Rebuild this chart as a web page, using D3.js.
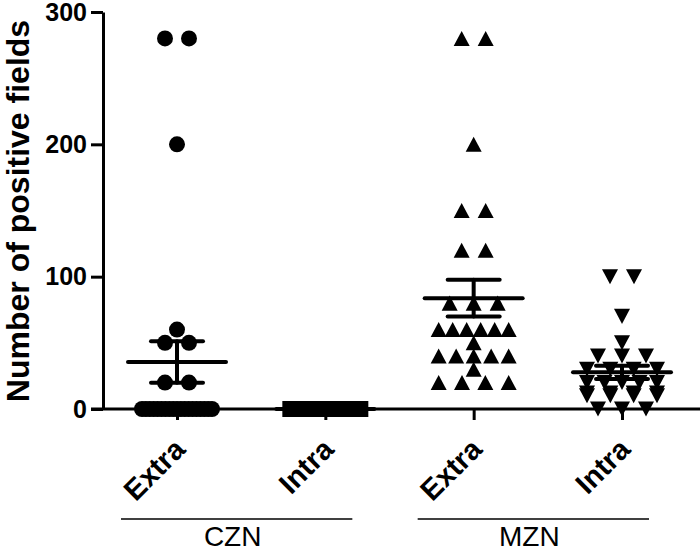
<!DOCTYPE html>
<meta charset="utf-8">
<style>
  body { margin: 0; background: #fff; }
  text { font-family: "Liberation Sans", Arial, sans-serif; fill: #000; }
</style>
<body>
<script src="https://d3js.org/d3.v7.min.js"></script>
<script>

var width = 700,
    height = 553;

// data
var series = ["CZN Extra", "CZN Intra", "MZN Extra", "MZN Intra"];
var tickLabels = ["Extra", "Intra", "Extra", "Intra"];
var groupLabels = ["CZN", "MZN"];
var groupMembers = [["CZN Extra", "CZN Intra"], ["MZN Extra", "MZN Intra"]];
var yTicks = [0, 100, 200, 300];

var cznExtra = [280, 280, 200, 60, 50, 50, 20, 20,
                0, 0, 0, 0, 0, 0, 0, 0, 0, 0, 0, 0, 0, 0, 0, 0, 0, 0, 0];
var cznIntra = [0, 0, 0, 0, 0, 0, 0, 0, 0, 0, 0, 0, 0, 0,
                0, 0, 0, 0, 0, 0, 0, 0, 0, 0, 0, 0, 0];
var mznExtra = [280, 280, 200, 150, 150, 120, 120, 80, 80, 80,
                60, 60, 60, 60, 60, 60, 50, 40, 40, 40, 40, 40, 30, 20, 20, 20, 20];
var mznIntra = [100, 100, 70, 50, 40, 40, 40, 30, 30, 30, 30,
                20, 20, 20, 20, 20, 12, 12, 12, 12, 10, 10, 10, 10, 0, 0, 0];

var values = [cznExtra, cznIntra, mznExtra, mznIntra];

// symbol shapes (GraphPad style)
var triUp = { draw: function(ctx, size) {
  var w = Math.sqrt(size) / 2, h = w * 0.94;
  ctx.moveTo(0, -h); ctx.lineTo(w, h); ctx.lineTo(-w, h); ctx.closePath();
}};
var triDown = { draw: function(ctx, size) {
  var w = Math.sqrt(size) / 2, h = w * 0.94;
  ctx.moveTo(0, h); ctx.lineTo(w, -h); ctx.lineTo(-w, -h); ctx.closePath();
}};
var shapes = [d3.symbolCircle, d3.symbolSquare, triUp, triDown];
var sizes = [Math.PI * 64, 256, 256, 256];

var svg = d3.select("body").append("svg")
    .attr("width", width)
    .attr("height", height);

var x = d3.scalePoint().domain(series).range([177, 622]);
var y = d3.scaleLinear().domain([0, 300]).range([409, 12]);

var axisX = 103;

// y axis
var yAxis = svg.append("g")
    .attr("transform", "translate(" + axisX + ",0)")
    .call(d3.axisLeft(y).tickValues(yTicks).tickSize(12).tickSizeOuter(0).tickPadding(4));
yAxis.select(".domain").attr("stroke-width", 3);
yAxis.selectAll(".tick line").attr("stroke-width", 3);
yAxis.selectAll(".tick text")
    .style("font-size", "25px")
    .style("font-weight", "bold")
    .attr("fill", "#000");

// x base line
svg.append("line")
    .attr("x1", axisX - 12).attr("x2", width)
    .attr("y1", y(0)).attr("y2", y(0))
    .attr("stroke", "#000").attr("stroke-width", 3);

var xAxis = svg.append("g")
    .attr("transform", "translate(0," + y(0) + ")")
    .call(d3.axisBottom(x).tickSize(11).tickSizeOuter(0).tickFormat(""));
xAxis.select(".domain").remove();
xAxis.selectAll(".tick line").attr("stroke-width", 3);

// rotated category labels
svg.selectAll(".cat")
    .data(series)
    .enter().append("text")
    .attr("class", "cat")
    .attr("transform", function(d) { return "translate(" + (x(d) + 10) + ",451) rotate(-45)"; })
    .attr("text-anchor", "end")
    .style("font-size", "29px")
    .style("font-weight", "bold")
    .text(function(d, i) { return tickLabels[i]; });

// group lines and labels
groupLabels.forEach(function(g, i) {
  var x1 = x(groupMembers[i][0]) - 56,
      x2 = x(groupMembers[i][1]) + 27;
  svg.append("line")
      .attr("x1", x1).attr("x2", x2)
      .attr("y1", 519).attr("y2", 519)
      .attr("stroke", "#000").attr("stroke-width", 1.5);
  svg.append("text")
      .attr("x", (x1 + x2) / 2 - 4)
      .attr("y", 546)
      .attr("text-anchor", "middle")
      .style("font-size", "28px")
      .text(g);
});

// y title
svg.append("text")
    .attr("transform", "translate(29,211) rotate(-90)")
    .attr("text-anchor", "middle")
    .style("font-size", "32px")
    .style("font-weight", "bold")
    .text("Number of positive fields");

// scatter layout: equal values in a row, squeezed into a max span
function layout(vals, cx) {
  var pts = [];
  d3.groups(vals, function(v) { return v; }).forEach(function(row) {
    var k = row[1].length,
        step = k > 1 ? Math.min(24, 70 / (k - 1)) : 0;
    row[1].forEach(function(v, i) {
      pts.push({ v: v, x: cx + (i - (k - 1) / 2) * step });
    });
  });
  return pts;
}

series.forEach(function(s, i) {
  var vals = values[i],
      cx = x(s),
      pts = layout(vals, cx);

  svg.append("g").selectAll("path")
      .data(pts)
      .enter().append("path")
      .attr("transform", function(d) { return "translate(" + d.x + "," + y(d.v) + ")"; })
      .attr("d", d3.symbol().type(shapes[i]).size(sizes[i]))
      .attr("fill", "#000");

  var m = d3.mean(vals),
      sem = (d3.deviation(vals) || 0) / Math.sqrt(vals.length);

  var g = svg.append("g")
      .attr("stroke", "#000")
      .attr("stroke-width", 4)
      .attr("stroke-linecap", "round");
  g.append("line")
      .attr("x1", cx).attr("x2", cx)
      .attr("y1", y(m + sem)).attr("y2", y(m - sem));
  g.append("line")
      .attr("x1", cx - 49).attr("x2", cx + 49)
      .attr("y1", y(m)).attr("y2", y(m));
  [m + sem, m - sem].forEach(function(b) {
    g.append("line")
        .attr("x1", cx - 26).attr("x2", cx + 26)
        .attr("y1", y(b)).attr("y2", y(b));
  });
});

</script>
